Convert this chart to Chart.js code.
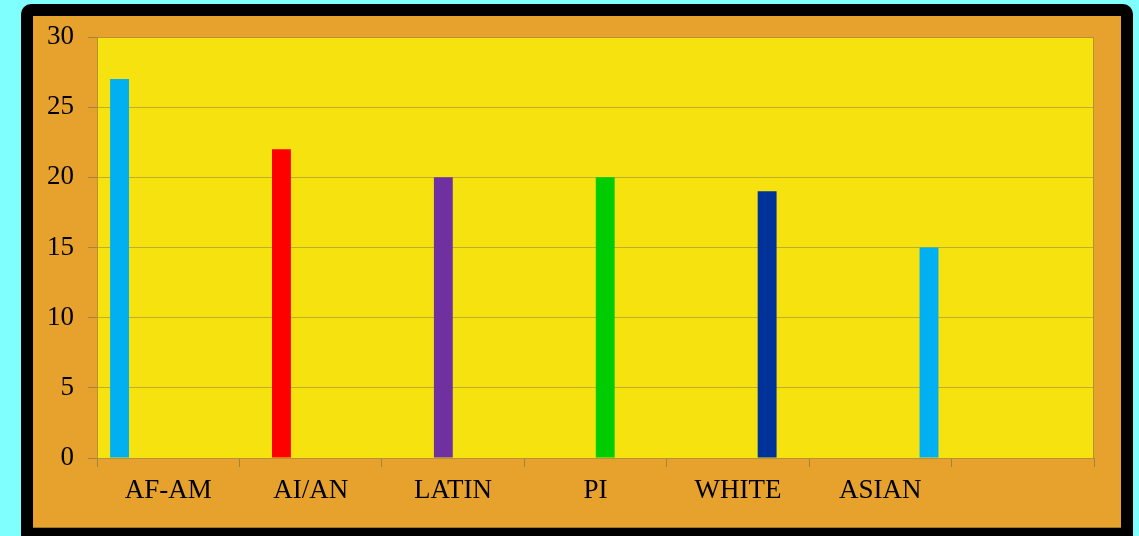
<!DOCTYPE html>
<html>
<head>
<meta charset="utf-8">
<script src="https://cdn.jsdelivr.net/npm/chart.js@4.4.1/dist/chart.umd.min.js"></script>
<style>
  html, body { margin: 0; padding: 0; background: #80ffff; }
  #wrap { width: 1139px; height: 536px; }
</style>
</head>
<body>
<div id="wrap"><canvas id="chart" width="1139" height="536"></canvas></div>
<script>
// categories (last slot is empty in the original)
const categories = ['AF-AM', 'AI/AN', 'LATIN', 'PI', 'WHITE', 'ASIAN', ''];
const groups = ['AF-AM', 'AI/AN', 'LATIN', 'PI', 'WHITE', 'ASIAN'];
const values = [27, 22, 20, 20, 19, 15];
const barColors = ['#00b0f0', '#ff0000', '#7030a0', '#00cc00', '#003399', '#00b0f0'];
const yTicks = [0, 5, 10, 15, 20, 25, 30];

// each group is its own series with a single value in its own category
const datasets = groups.map((name, i) => ({
    label: name,
    data: categories.map((c, j) => (j === i ? values[i] : null)),
    backgroundColor: barColors[i],
    borderWidth: 0,
}));

const framePlugin = {
    id: 'frame',
    beforeDraw(chart) {
        const ctx = chart.ctx;
        const a = chart.chartArea;
        ctx.save();
        ctx.fillStyle = '#80ffff';
        ctx.fillRect(0, 0, chart.width, chart.height);
        ctx.fillStyle = '#000000';
        ctx.beginPath();
        ctx.roundRect(21, 4, 1112, 560, 10);
        ctx.fill();
        ctx.fillStyle = '#e6a22d';
        ctx.fillRect(33, 16, 1088, 512);
        ctx.fillStyle = '#a0762a';
        ctx.fillRect(33, 527, 1088, 1);
        ctx.fillStyle = '#f5e20f';
        ctx.fillRect(a.left, a.top, a.right - a.left, a.bottom - a.top);
        ctx.restore();
    },
    afterDatasetsDraw(chart) {
        const ctx = chart.ctx;
        const a = chart.chartArea;
        ctx.save();
        ctx.strokeStyle = '#b8903a';
        ctx.lineWidth = 1;
        ctx.strokeRect(a.left + 0.5, a.top + 0.5, a.right - a.left - 1, a.bottom - a.top);
        ctx.restore();
    }
};

new Chart(document.getElementById('chart'), {
    type: 'bar',
    data: { labels: categories, datasets: datasets },
    options: {
        responsive: false,
        animation: false,
        layout: { padding: { left: 0, right: 45, top: 37, bottom: 0 } },
        plugins: { legend: { display: false }, tooltip: { enabled: false } },
        datasets: { bar: { categoryPercentage: 0.82, barPercentage: 0.97 } },
        scales: {
            x: {
                grid: { drawOnChartArea: false, tickLength: 9, color: '#a8823a', tickColor: '#a8823a' },
                border: { color: '#a8823a' },
                ticks: { color: '#000', font: { family: 'Liberation Serif', size: 27 }, padding: 8, maxRotation: 0 },
                afterFit(s) { s.height = 78; }
            },
            y: {
                min: 0, max: 30,
                afterBuildTicks(s) { s.ticks = yTicks.map(v => ({ value: v })); },
                grid: { color: '#bfae2a', tickLength: 9, tickColor: '#a8823a' },
                border: { color: '#a8823a' },
                ticks: { color: '#000', font: { family: 'Liberation Serif', size: 27 }, padding: 14 },
                afterFit(s) { s.width = 97; }
            }
        }
    },
    plugins: [framePlugin]
});
</script>
</body>
</html>
